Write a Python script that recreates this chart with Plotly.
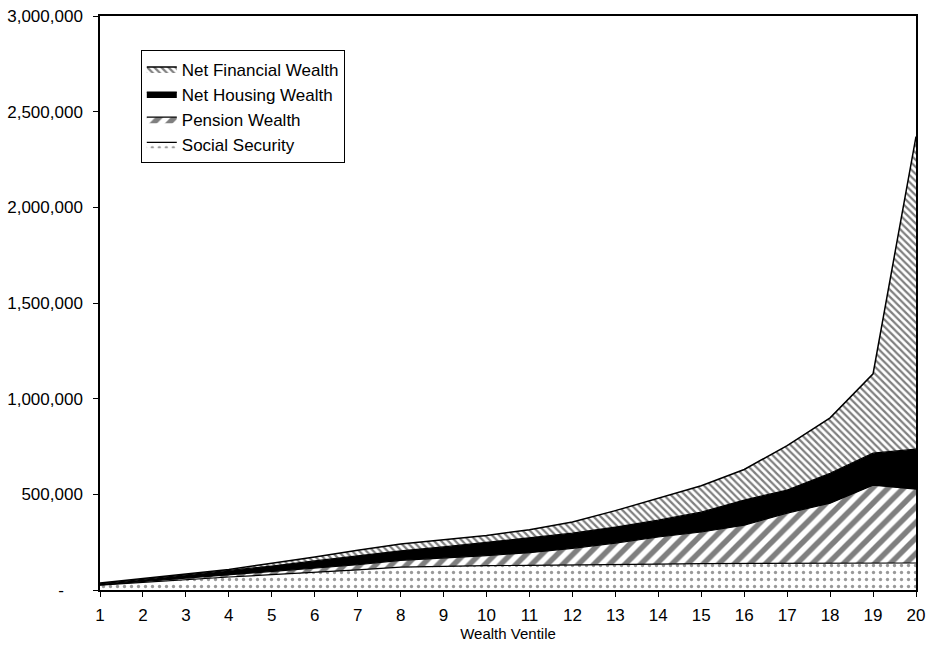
import plotly.graph_objects as go

ventiles = list(range(1, 21))
social_security = [25000, 40000, 55000, 68000, 80000, 92000, 105000, 120000, 125000, 127000,
                   129000, 130000, 132000, 135000, 138000, 139000, 140000, 140000, 141000, 141000]
pension_wealth = [2000, 5000, 7000, 10000, 15000, 23000, 27000, 35000, 42000, 53000,
                  66000, 88000, 113000, 142000, 165000, 200000, 262000, 314000, 407000, 386000]
housing_wealth = [5000, 10000, 18000, 22000, 30000, 37000, 48000, 50000, 58000, 70000,
                  77000, 79000, 84000, 88000, 104000, 131000, 120000, 156000, 167000, 209000]
financial_wealth = [4000, 5000, 5000, 7000, 15000, 20000, 28000, 35000, 37000, 35000,
                    43000, 58000, 86000, 115000, 138000, 160000, 233000, 290000, 415000, 1634000]

y_tickvals = [0, 500000, 1000000, 1500000, 2000000, 2500000, 3000000]
y_ticktext = ["-\u00a0\u00a0\u00a0\u00a0", "500,000", "1,000,000", "1,500,000",
              "2,000,000", "2,500,000", "3,000,000"]

FONT = "Arial, Liberation Sans, sans-serif"

fig = go.Figure()
fig.add_trace(go.Scatter(
    x=ventiles, y=social_security, name="Social Security", stackgroup="one",
    mode="lines", line=dict(color="black", width=1.2),
    fillcolor="white",
    fillpattern=dict(shape=".", fgcolor="#333333", bgcolor="white", size=7, solidity=0.18),
))
fig.add_trace(go.Scatter(
    x=ventiles, y=pension_wealth, name="Pension Wealth", stackgroup="one",
    mode="lines", line=dict(color="black", width=1.2),
    fillcolor="white",
    fillpattern=dict(shape="/", fgcolor="black", bgcolor="white", size=11, solidity=0.5),
))
fig.add_trace(go.Scatter(
    x=ventiles, y=housing_wealth, name="Net Housing Wealth", stackgroup="one",
    mode="lines", line=dict(color="black", width=1.2),
    fillcolor="black",
))
fig.add_trace(go.Scatter(
    x=ventiles, y=financial_wealth, name="Net Financial Wealth", stackgroup="one",
    mode="lines", line=dict(color="black", width=1.5),
    fillcolor="white",
    fillpattern=dict(shape="\\", fgcolor="black", bgcolor="white", size=5, solidity=0.45),
))

fig.update_layout(
    width=927, height=648,
    margin=dict(l=100, r=11, t=16, b=58, autoexpand=False),
    paper_bgcolor="white", plot_bgcolor="white",
    font=dict(family=FONT, size=17, color="black"),
    showlegend=True,
    legend=dict(
        x=0.05, y=0.94, xanchor="left", yanchor="top",
        traceorder="reversed",
        bordercolor="black", borderwidth=1, bgcolor="white",
        font=dict(family=FONT, size=17, color="black"),
        itemwidth=30,
    ),
    xaxis=dict(
        range=[1, 20], tickmode="array", tickvals=ventiles,
        ticktext=[str(v) for v in ventiles],
        showline=True, linecolor="black", linewidth=1.5, mirror=True,
        ticks="outside", ticklen=5, tickcolor="black",
        ticklabelstandoff=4, automargin=False, ticklabeloverflow="allow",
        showgrid=False, zeroline=False,
        title=dict(text="Wealth Ventile", font=dict(size=15), standoff=4),
        tickfont=dict(size=17),
    ),
    yaxis=dict(
        range=[0, 3000000], tickmode="array", tickvals=y_tickvals, ticktext=y_ticktext,
        showline=True, linecolor="black", linewidth=1.5, mirror=True,
        ticks="outside", ticklen=5, tickcolor="black",
        ticklabelstandoff=7, automargin=False, ticklabeloverflow="allow",
        showgrid=False, zeroline=False,
        tickfont=dict(size=17),
    ),
)

fig.write_html("out.html", config={"displayModeBar": False},
               post_script="document.body.style.margin='0px';")
